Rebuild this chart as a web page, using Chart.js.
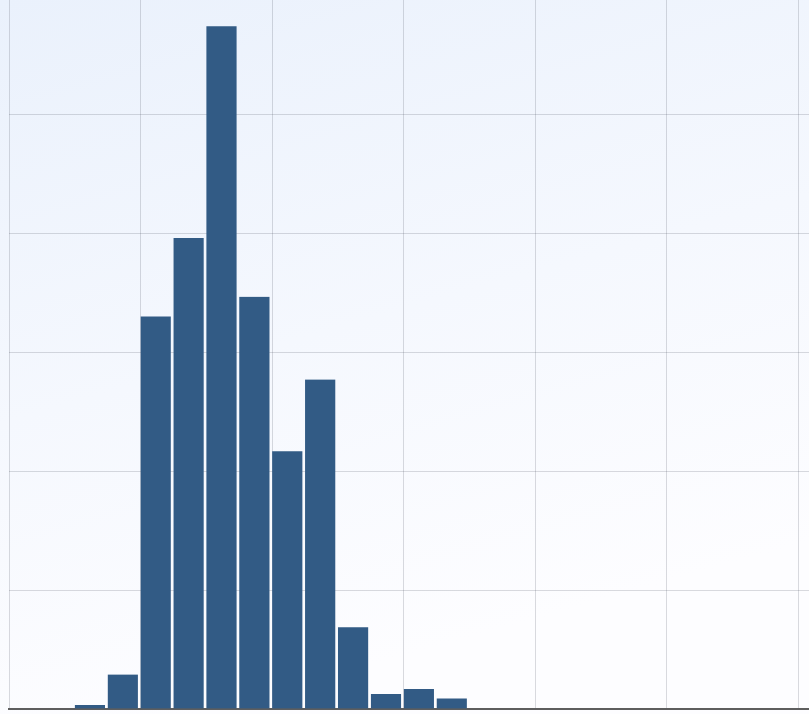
<!DOCTYPE html>
<html>
<head>
<meta charset="utf-8">
<script src="https://cdn.jsdelivr.net/npm/chart.js@4/dist/chart.umd.min.js"></script>
<style>
  html, body { margin: 0; padding: 0; background: #fff; }
  #wrap { position: relative; width: 809px; height: 714px; }
</style>
</head>
<body>
<div id="wrap"><canvas id="histogram_chart"></canvas></div>
<script>
// histogram bins (left edge of each bin, in bin units) and heights (in grid units)
const binStarts = [2, 3, 4, 5, 6, 7, 8, 9, 10, 11, 12, 13]
const binHeights = [0.034, 0.289, 3.30, 3.96, 5.74, 3.465, 2.166, 2.77, 0.687, 0.126, 0.168, 0.089]
const binWidth = 1

// where the vertical and horizontal grid lines sit
const xGridTicks = [0, 4, 8, 12, 16, 20, 24]
const yGridTicks = [0, 1, 2, 3, 4, 5]

const xMin = 0
const xMax = 24.32
const yMin = 0
const yMax = 5.96

const BAR_COLOR = '#325b85'
const GRID_COLOR = 'rgba(70, 75, 90, 0.2)'

// soft blue wash behind the plot
const backgroundPlugin = {
    id: 'backgroundWash',
    beforeDraw(chart) {
        const { ctx, width, height } = chart
        const grad = ctx.createLinearGradient(0, 0, width * 0.25, height)
        grad.addColorStop(0, '#eaf1fc')
        grad.addColorStop(0.55, '#f5f8fe')
        grad.addColorStop(1, '#fdfdff')
        ctx.save()
        ctx.fillStyle = grad
        ctx.fillRect(0, 0, width, height)
        ctx.restore()
    }
}

const ctx = document.getElementById('histogram_chart')

const histogramChart = new Chart(ctx, {
    type: 'bar',
    data: {
        datasets: [{
            label: 'count',
            data: binStarts.map((x, i) => ({ x: x + binWidth / 2, y: binHeights[i] })),
            backgroundColor: BAR_COLOR,
            borderColor: 'rgba(0,0,0,0)',
            borderWidth: { top: 0, left: 0, bottom: 0, right: 3 },
            borderSkipped: false,
            barPercentage: 1,
            categoryPercentage: 1,
        }]
    },
    options: {
        responsive: true,
        maintainAspectRatio: false,
        animation: false,
        layout: {
            padding: { left: 9, right: 0, top: 0, bottom: 5 }
        },
        plugins: {
            legend: { display: false },
            tooltip: { enabled: false }
        },
        scales: {
            x: {
                type: 'linear',
                min: xMin,
                max: xMax,
                z: 1,
                offset: false,
                afterBuildTicks: scale => {
                    scale.ticks = xGridTicks.map(v => ({ value: v }))
                },
                ticks: { display: false },
                grid: { color: GRID_COLOR, drawTicks: false, lineWidth: 1, offset: false },
                border: { display: true, color: '#5e5e5e', width: 2 }
            },
            y: {
                min: yMin,
                max: yMax,
                z: 1,
                afterBuildTicks: scale => {
                    scale.ticks = yGridTicks.map(v => ({ value: v }))
                },
                ticks: { display: false },
                grid: { color: GRID_COLOR, drawTicks: false, lineWidth: 1 },
                border: { display: false }
            }
        }
    },
    plugins: [backgroundPlugin]
});
</script>
</body>
</html>
